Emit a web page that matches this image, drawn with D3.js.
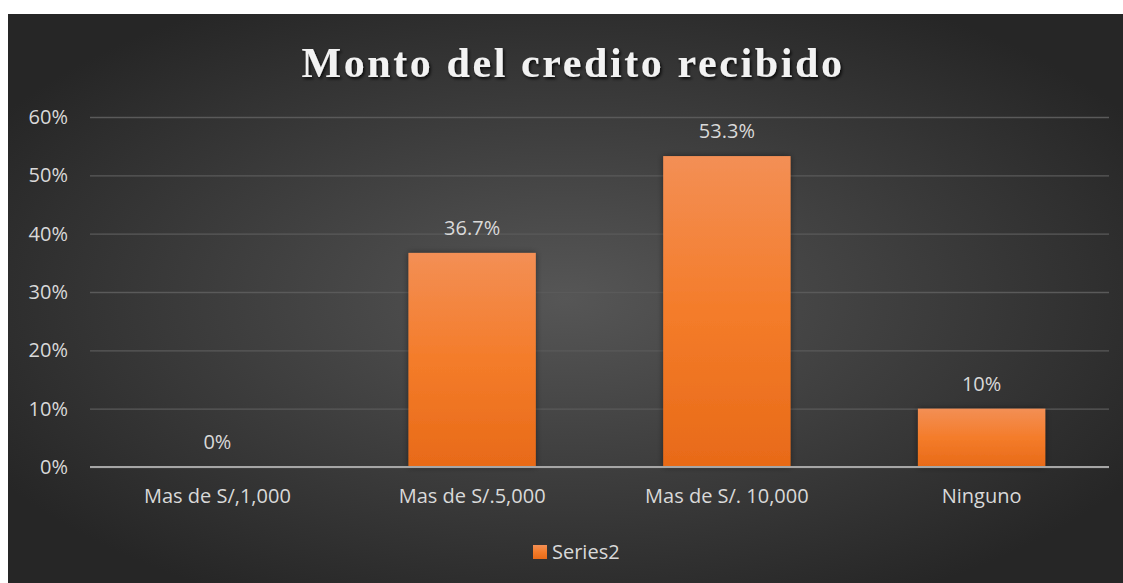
<!DOCTYPE html>
<html>
  <head>
    <meta charset="utf-8">
    <title>Monto del credito recibido</title>
    <script src="https://cdn.jsdelivr.net/npm/d3@7"></script>
    <style>
      body { margin: 0; background: #fff; }
      svg { display: block; }
      .tick text, .label, .legend text { font-family: "Open Sans", sans-serif; fill: #d9d9d9; }
    </style>
  </head>
  <body>
    <svg id="chart" width="1123" height="583"></svg>

    <script>
      // data
      categories = ["Mas de S/,1,000", "Mas de S/.5,000", "Mas de S/. 10,000", "Ninguno"];
      values = [0, 0.367, 0.533, 0.10];
      labels = ["0%", "36.7%", "53.3%", "10%"];
      yTicks = [0, 0.1, 0.2, 0.3, 0.4, 0.5, 0.6];
      seriesName = "Series2";

      width = 1123;
      height = 583;
      margin = { top: 117, right: 14, bottom: 116, left: 90 };
      fontSize = 20;

      chart = d3.select("#chart");
      defs = chart.append("defs");

      // background
      bg = defs.append("radialGradient")
        .attr("id", "bg")
        .attr("cx", "50%").attr("cy", "50%").attr("r", "60%");
      bg.append("stop").attr("offset", "0%").attr("stop-color", "#565656");
      bg.append("stop").attr("offset", "100%").attr("stop-color", "#262626");

      barFill = defs.append("linearGradient")
        .attr("id", "barFill")
        .attr("x1", 0).attr("y1", 0).attr("x2", 0).attr("y2", 1);
      barFill.append("stop").attr("offset", "0%").attr("stop-color", "#f38f55");
      barFill.append("stop").attr("offset", "50%").attr("stop-color", "#f47c2a");
      barFill.append("stop").attr("offset", "100%").attr("stop-color", "#e86a18");

      shadow = defs.append("filter").attr("id", "shadow")
        .attr("x", "-10%").attr("y", "-20%").attr("width", "120%").attr("height", "150%");
      shadow.append("feDropShadow")
        .attr("dx", 1.5).attr("dy", 2).attr("stdDeviation", 1.5)
        .attr("flood-color", "#000").attr("flood-opacity", 0.8);

      barShadow = defs.append("filter").attr("id", "barShadow")
        .attr("x", "-20%").attr("y", "-10%").attr("width", "140%").attr("height", "120%");
      barShadow.append("feDropShadow")
        .attr("dx", 0).attr("dy", 0).attr("stdDeviation", 3)
        .attr("flood-color", "#000").attr("flood-opacity", 0.45);

      chart.append("rect")
        .attr("x", 8).attr("y", 14)
        .attr("width", width - 8).attr("height", height - 14)
        .attr("fill", "url(#bg)");

      // title
      chart.append("text")
        .attr("x", 573)
        .attr("y", 77)
        .attr("text-anchor", "middle")
        .attr("font-family", "Liberation Serif, serif")
        .attr("font-weight", "bold")
        .attr("font-size", 42)
        .attr("letter-spacing", 2.6)
        .attr("fill", "#f2f2f2")
        .attr("filter", "url(#shadow)")
        .text("Monto del credito recibido");

      // scales
      x = d3.scaleBand()
        .domain(categories)
        .range([margin.left, width - margin.right])
        .paddingInner(0.5)
        .paddingOuter(0.25);

      y = d3.scaleLinear()
        .domain([0, 0.6])
        .range([height - margin.bottom, margin.top]);

      // grid + y axis
      yAxis = d3.axisLeft(y)
        .tickValues(yTicks)
        .tickFormat(d3.format(".0%"))
        .tickSize(margin.left + margin.right - width)
        .tickPadding(22);

      axisGroup = chart.append("g")
        .attr("transform", "translate(" + margin.left + ",0)")
        .call(yAxis);
      axisGroup.select(".domain").remove();
      axisGroup.selectAll(".tick line")
        .attr("stroke", "#5a5a5a")
        .attr("stroke-width", 1.3);
      axisGroup.selectAll(".tick text")
        .attr("font-size", fontSize)
        .attr("x", -22);

      // bars
      chart.append("g")
        .selectAll("rect")
        .data(values)
        .join("rect")
          .attr("x", (d, i) => x(categories[i]))
          .attr("y", d => y(d))
          .attr("width", x.bandwidth())
          .attr("height", d => y(0) - y(d))
          .attr("fill", "url(#barFill)")
          .attr("filter", "url(#barShadow)");

      // baseline
      chart.append("line")
        .attr("x1", margin.left).attr("x2", width - margin.right)
        .attr("y1", y(0)).attr("y2", y(0))
        .attr("stroke", "#a6a6a6")
        .attr("stroke-width", 2);

      // data labels
      chart.append("g")
        .selectAll("text")
        .data(values)
        .join("text")
          .attr("class", "label")
          .attr("x", (d, i) => x(categories[i]) + x.bandwidth() / 2)
          .attr("y", d => y(d) - 18)
          .attr("text-anchor", "middle")
          .attr("font-size", fontSize)
          .text((d, i) => labels[i]);

      // x axis
      xAxis = d3.axisBottom(x).tickSize(0).tickPadding(22);
      xGroup = chart.append("g")
        .attr("transform", "translate(0," + y(0) + ")")
        .call(xAxis);
      xGroup.select(".domain").remove();
      xGroup.selectAll(".tick text").attr("font-size", fontSize);

      // legend
      legend = chart.append("g").attr("class", "legend")
        .attr("transform", "translate(533,545)");
      legend.append("rect")
        .attr("width", 14).attr("height", 14)
        .attr("fill", "url(#barFill)");
      legend.append("text")
        .attr("x", 19).attr("y", 14)
        .attr("font-size", fontSize)
        .text(seriesName);
    </script>
  </body>
</html>
